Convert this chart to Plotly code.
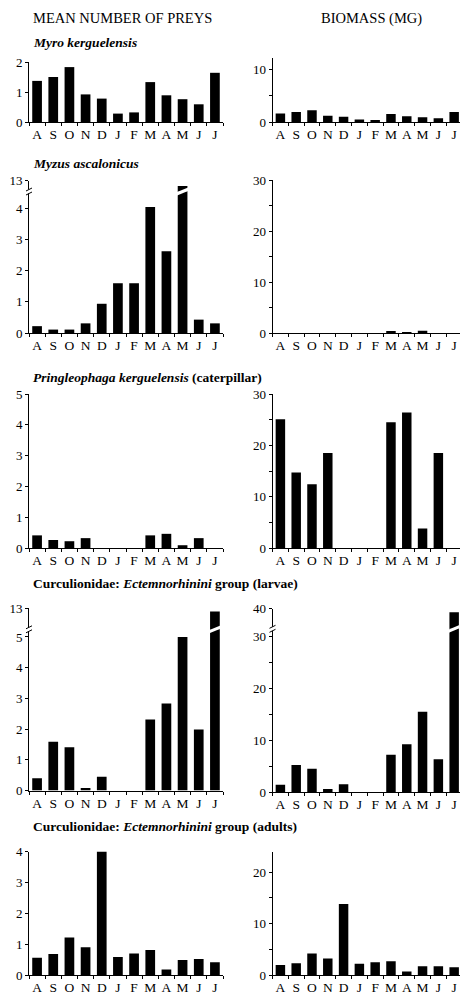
import plotly.graph_objects as go

W, H = 460, 997
FONT = "'Liberation Serif', 'Times New Roman', Times, 'DejaVu Serif', serif"

months = ["A", "S", "O", "N", "D", "J", "F", "M", "A", "M", "J", "J"]

myro_n = [1.37, 1.50, 1.83, 0.92, 0.78, 0.28, 0.32, 1.33, 0.89, 0.76, 0.59, 1.64]
myro_b = [1.6, 1.9, 2.2, 1.2, 1.0, 0.45, 0.4, 1.5, 1.1, 0.9, 0.7, 1.9]
myzus_n = [0.22, 0.11, 0.11, 0.31, 0.94, 1.60, 1.60, 4.05, 2.63, 12.5, 0.43, 0.31]
myzus_b = [0, 0, 0, 0, 0, 0, 0, 0.25, 0.15, 0.45, 0, 0]
pring_n = [0.41, 0.26, 0.22, 0.32, 0, 0, 0, 0.41, 0.46, 0.09, 0.32, 0]
pring_b = [25.1, 14.7, 12.4, 18.5, 0, 0, 0, 24.5, 26.4, 3.8, 18.5, 0]
larv_n = [0.40, 1.59, 1.41, 0.08, 0.45, 0, 0, 2.31, 2.83, 5.0, 1.99, 12.85]
larv_b = [1.4, 5.2, 4.5, 0.6, 1.5, 0, 0, 7.2, 9.2, 15.5, 6.3, 39.3]
adult_n = [0.56, 0.68, 1.22, 0.90, 4.05, 0.58, 0.70, 0.81, 0.18, 0.49, 0.52, 0.41]
adult_b = [1.95, 2.3, 4.2, 3.2, 13.8, 2.2, 2.5, 2.7, 0.7, 1.7, 1.7, 1.5]

LEFT_X = (29, 223)
RIGHT_X = (272.5, 460)
LEFT_XR = [-0.5, 11.5]
RIGHT_XR = [-0.5, 11.37]

fig = go.Figure()
layout = {}
shapes = []
annotations = []
count = [0]
overlay_count = [40]
BOUNDS = [k - 0.5 for k in range(len(months) + 1)]


def fy(p):
    return 1 - p / H


def fx(p):
    return p / W


def yaxis_style(yr, tickvals, minor_dtick=None):
    d = dict(range=yr, tickmode="array", tickvals=tickvals, ticks="outside",
             ticklen=3, tickwidth=1, tickcolor="black", showline=True,
             linecolor="black", linewidth=1, showgrid=False, zeroline=False,
             automargin=False,
             tickfont=dict(family=FONT, size=13, color="black"), fixedrange=True)
    if minor_dtick:
        d["minor"] = dict(tickmode="linear", tick0=0, dtick=minor_dtick, ticks="outside",
                          ticklen=3, tickcolor="black", showgrid=False)
    return d


def panel(xdom, xr, ydom, yr, tickvals, values, minor_dtick=None, show_x=True, match=None):
    count[0] += 1
    i = count[0]
    xs = "" if i == 1 else str(i)
    xa = dict(domain=[fx(xdom[0]), fx(xdom[1])], range=xr, anchor="y" + xs,
              showgrid=False, zeroline=False, fixedrange=True, automargin=False)
    if show_x:
        xa.update(showline=True, linecolor="black", linewidth=1, tickmode="array",
                  tickvals=list(range(len(months))), ticktext=months, ticks="",
                  ticklabeloverflow="allow",
                  tickfont=dict(family=FONT, size=13.5, color="black"),
                  minor=dict(tickmode="array", tickvals=BOUNDS,
                             ticks="outside", ticklen=3, tickcolor="black", showgrid=False))
        # overlay axis drawing the upper half of the crossing month ticks
        overlay_count[0] += 1
        oid = str(overlay_count[0])
        layout["xaxis" + oid] = dict(overlaying="x" + xs, anchor="y" + xs, side="bottom",
                                     range=xr, tickmode="array", tickvals=BOUNDS,
                                     ticks="inside", ticklen=2, tickcolor="black",
                                     showticklabels=False, showline=False, showgrid=False,
                                     zeroline=False, fixedrange=True, automargin=False)
    else:
        xa.update(visible=False)
    if match:
        xa["matches"] = match
    ya = yaxis_style(yr, tickvals, minor_dtick)
    ya.update(domain=[fy(ydom[0]), fy(ydom[1])], anchor="x" + xs)
    layout["xaxis" + xs] = xa
    layout["yaxis" + xs] = ya
    fig.add_trace(go.Bar(x=list(range(len(months))), y=values, width=0.6,
                         marker=dict(color="black", line=dict(width=0)),
                         xaxis="x" + xs, yaxis="y" + xs, showlegend=False,
                         hoverinfo="skip"))
    return "x" + xs


def add_break(xid, idx, ybreak_px, axis_px):
    # white slanted cut across the broken bar
    shapes.append(dict(type="line", xref=xid, yref="paper", x0=idx - 0.45, x1=idx + 0.45,
                       y0=fy(ybreak_px + 3), y1=fy(ybreak_px - 3),
                       line=dict(color="white", width=3)))
    # gap in the y axis
    shapes.append(dict(type="line", xref="paper", yref="paper", x0=fx(axis_px), x1=fx(axis_px),
                       y0=fy(ybreak_px + 2), y1=fy(ybreak_px - 2),
                       line=dict(color="white", width=3)))
    for off in (-2, 2):
        shapes.append(dict(type="line", xref="paper", yref="paper",
                           x0=fx(axis_px - 3), x1=fx(axis_px + 3),
                           y0=fy(ybreak_px + off + 1.5), y1=fy(ybreak_px + off - 1.5),
                           line=dict(color="black", width=1)))


# Row 1: Myro kerguelensis
panel(LEFT_X, LEFT_XR, (122, 62), [0, 2], [0, 1, 2], myro_n)
panel(RIGHT_X, RIGHT_XR, (122, 57.5), [0, 12.2], [0, 10], myro_b, minor_dtick=5)

# Row 2: Myzus ascalonicus (broken axis on left)
xl2 = panel(LEFT_X, LEFT_XR, (333, 191.5), [0, 4.55], [0, 1, 2, 3, 4], myzus_n)
panel(LEFT_X, LEFT_XR, (191.5, 180.5), [12, 13], [13], myzus_n, show_x=False, match=xl2)
add_break(xl2, 9, 191.5, LEFT_X[0])
panel(RIGHT_X, RIGHT_XR, (333, 180), [0, 30], [0, 10, 20, 30], myzus_b, minor_dtick=5)

# Row 3: Pringleophaga kerguelensis
panel(LEFT_X, LEFT_XR, (548, 394), [0, 5], [0, 1, 2, 3, 4, 5], pring_n)
panel(RIGHT_X, RIGHT_XR, (548, 394), [0, 30], [0, 10, 20, 30], pring_b, minor_dtick=5)

# Row 4: larvae (broken axes)
xl4 = panel(LEFT_X, LEFT_XR, (790.5, 629.3), [0, 5.25], [0, 1, 2, 3, 4, 5], larv_n)
panel(LEFT_X, LEFT_XR, (629.3, 608.3), [12, 13], [13], larv_n, show_x=False, match=xl4)
add_break(xl4, 11, 629.3, LEFT_X[0])
xr4 = panel(RIGHT_X, RIGHT_XR, (792, 628.8), [0, 31.5], [0, 10, 20, 30], larv_b, minor_dtick=5)
panel(RIGHT_X, RIGHT_XR, (628.8, 608.6), [36, 40], [40], larv_b, show_x=False, match=xr4)
add_break(xr4, 11, 628.8, RIGHT_X[0])

# Row 5: adults
panel(LEFT_X, LEFT_XR, (975, 851.7), [0, 4], [0, 1, 2, 3, 4], adult_n)
panel(RIGHT_X, RIGHT_XR, (975, 851.7), [0, 24], [0, 10, 20], adult_b, minor_dtick=5)


def title(text, x_px, y_px, size=13.5, anchor="left"):
    annotations.append(dict(text=text, xref="paper", yref="paper", x=fx(x_px), y=fy(y_px),
                            xanchor=anchor, yanchor="middle", showarrow=False,
                            font=dict(family=FONT, size=size, color="black")))


title("MEAN NUMBER OF PREYS", 31, 18, size=14.5)
title("BIOMASS (MG)", 371, 18, size=14.5, anchor="center")
title("<b><i>Myro kerguelensis</i></b>", 31, 42.5)
title("<b><i>Myzus ascalonicus</i></b>", 31, 164)
title("<b><i>Pringleophaga kerguelensis</i> (caterpillar)</b>", 31, 377)
title("<b>Curculionidae: <i>Ectemnorhinini</i> group (larvae)</b>", 31, 583)
title("<b>Curculionidae: <i>Ectemnorhinini</i> group (adults)</b>", 31, 826.5)

fig.update_layout(**layout)
fig.update_layout(template="none", width=W, height=H, margin=dict(l=0, r=0, t=0, b=0, pad=0),
                  paper_bgcolor="white", plot_bgcolor="white", bargap=0.4,
                  shapes=shapes, annotations=annotations, showlegend=False,
                  font=dict(family=FONT, color="black"))
fig.write_html("out.html", config={"displayModeBar": False},
               post_script="document.body.style.margin='0';document.body.style.overflow='hidden';")
